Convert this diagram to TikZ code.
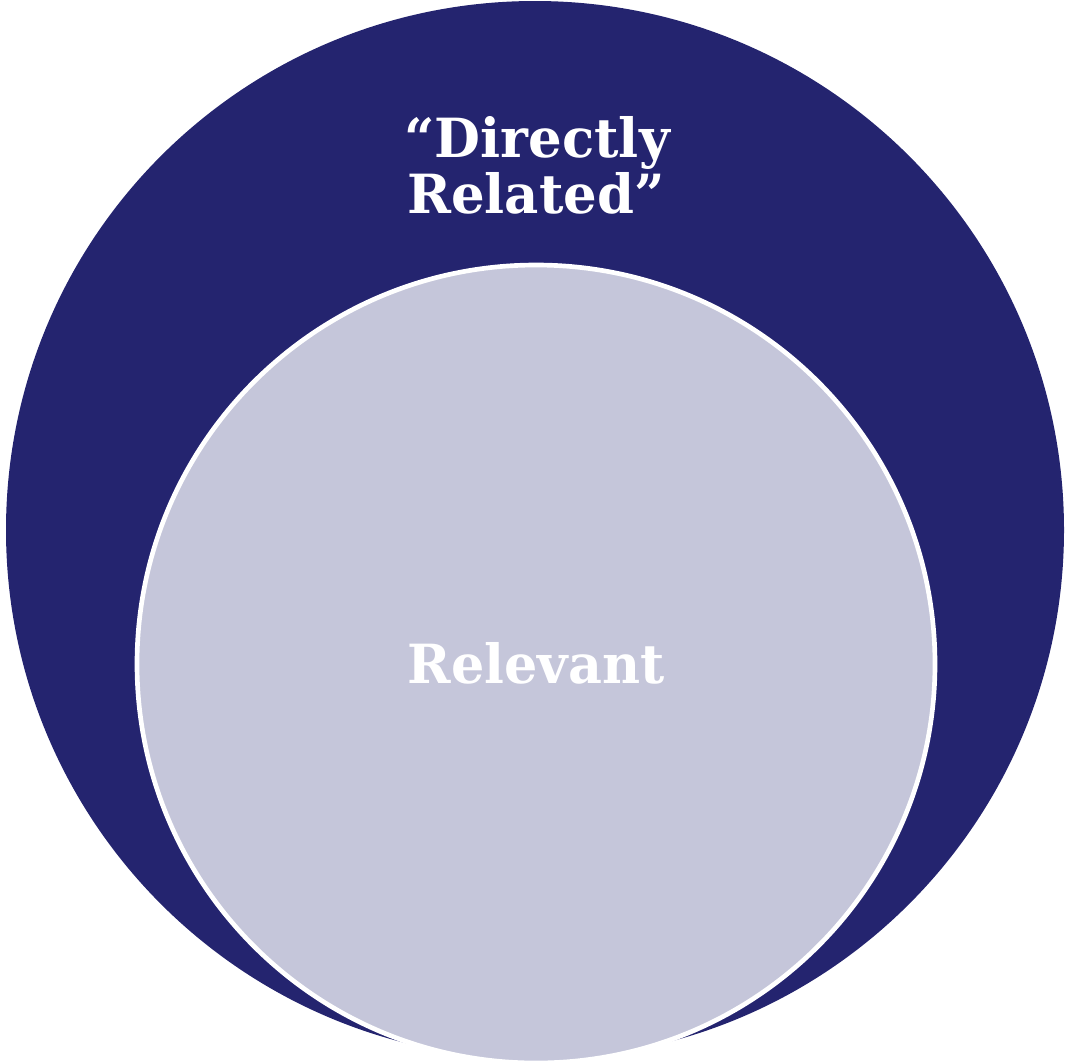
\documentclass[tikz,border=0pt]{standalone}
\usepackage{fontspec}
\setmainfont{DejaVu Serif}
\definecolor{navy}{HTML}{24246F}
\definecolor{lav}{HTML}{C5C6DA}
\begin{document}
\begin{tikzpicture}[x=0.75pt,y=-0.75pt,
  lbl/.style={text=white,font=\bfseries\fontsize{40.5}{42}\selectfont,align=center,inner sep=0pt}]
\useasboundingbox (0,0) rectangle (1068,1061);
\fill[navy] (535,530) circle[radius=529];
\filldraw[fill=lav,draw=white,line width=3.5pt] (536,664) circle[radius=399];
\node[lbl,anchor=base,xscale=0.98] (dr) at (537,157) {“Directly};
\node[lbl,anchor=base,xscale=0.98] (rl) at (536,213) {Related”};
\node[lbl,anchor=base,xscale=0.97] (rv) at (536,683) {Relevant};
\end{tikzpicture}
\end{document}
